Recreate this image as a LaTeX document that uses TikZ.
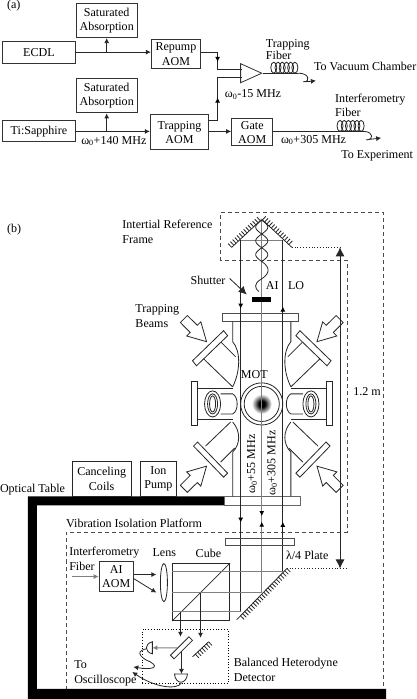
\documentclass[tikz,border=0pt]{standalone}
\usepackage{fontspec}
\setmainfont{Liberation Serif}
\usepackage{tikz}
\usetikzlibrary{arrows.meta, positioning}
\usetikzlibrary{shapes.geometric}
\usetikzlibrary{decorations.markings, decorations.pathreplacing}
\pgfdeclareradialshading{motcloud}{\pgfpointorigin}{color(0bp)=(black); color(8bp)=(black); color(16bp)=(black!50); color(25bp)=(white); color(50bp)=(white)}

\begin{document}
\begin{tikzpicture}[
		x=1pt,y=-1pt,
		every node/.style={font=\fontsize{12}{14.5}\selectfont, inner sep=0pt},
		block/.style={
			rectangle,
			draw=black!80,
			line width=1pt,
			align=center
		},
		caption/.style={
			align=left,
			anchor=west
		},
		wire/.style={
			line width=0.8pt,
			draw=black!85
		},
		beam/.style={
			line width=1pt,
			draw=black!50
		},
		arrow/.style={
			wire,
			->,
			>={Latex[length=5pt,width=5pt]}
		},
		beamarrow/.style={
			beam,
			->,
			>={Latex[length=5pt,width=5pt]}
		},
		tipat/.style={
			postaction={decorate,decoration={markings,
				mark=at position #1 with {\arrow[black]{Latex[length=5pt,width=5pt]}}}}
		},
		tipback/.style={
			postaction={decorate,decoration={markings,
				mark=at position #1 with {\arrowreversed[black]{Latex[length=5pt,width=5pt]}}}}
		},
		hatched/.style={
			wire,
			postaction={draw,decorate,decoration={border,segment length=3pt,amplitude=5pt,angle=90}}
		},
		frameline/.style={
			line width=0.8pt,
			draw=black!70,
			dash pattern=on 4pt off 3pt
		},
		bigarrow/.style={
			wire,
			fill=white
		}
		]
		
		% Part (a) nodes
		\node[caption] (parta) at (7,8) {(a)};
		\node[block, minimum width=72pt, minimum height=22pt] (ecdl) at (39,54.5) {ECDL};
		\node[block, minimum width=72pt, minimum height=21pt] (tisapph) at (39,133.5) {Ti:Sapphire};
		\node[block, minimum width=61pt, minimum height=34pt] (satone) at (106.5,23) {Saturated\\Absorption};
		\node[block, minimum width=61pt, minimum height=34pt] (sattwo) at (106.5,98) {Saturated\\Absorption};
		\node[block, minimum width=49pt, minimum height=29pt, right=75pt of ecdl.east, anchor=west, yshift=-2pt] (repump) {Repump\\AOM};
		\node[block, minimum width=58pt, minimum height=35pt] (trapping) at (179,134.5) {Trapping\\AOM};
		\node[block, minimum width=41pt, minimum height=27pt, right=22pt of trapping] (gate) {Gate\\AOM};
		\node[draw=black!80, line width=0.8pt, shape=isosceles triangle, isosceles triangle stretches,
			minimum height=21pt, minimum width=19pt, anchor=apex] (combiner) at (262,75.5) {};
		
		\coordinate (repumpin) at (241,71.5);
		\coordinate (trapin) at (241,80);
		\coordinate (jointr) at (217,71.5);
		\coordinate (jointt) at (217,80);
		\coordinate (trapcoil) at (297,75.5);
		\coordinate (vacuum) at (315,83);
		\coordinate (gatecoil) at (363,133.5);
		\coordinate (experiment) at (380,140);
		
		\node[caption] (trapfiber) at (265,52) {Trapping\\[-2.5pt]Fiber};
		\node[caption] (vacuumtext) at (313,69) {To Vacuum Chamber};
		\node[caption] (redtext) at (224,97) {ω\textsubscript{0}-15 MHz};
		\node[caption] (intfiber) at (334,107.5) {Interferometry\\Fiber};
		\node[caption] (gatetext) at (280,142) {ω\textsubscript{0}+305 MHz};
		\node[caption] (exptext) at (340,158) {To Experiment};
		\node[caption] (tisapphtext) at (81,143) {ω\textsubscript{0}+140 MHz};
		
		% Part (a) arrows
		\draw[arrow] (ecdl.east) -- (ecdl.east -| repump.west);
		\draw[arrow] (ecdl.east -| satone.south) -- (satone.south);
		\draw[arrow] (tisapph.east) -- (tisapph.east -| trapping.west);
		\draw[arrow] (tisapph.east -| sattwo.south) -- (sattwo.south);
		\draw[wire, tipat=.45] ([yshift=1.5pt]repump.east) -| (jointr) -- (repumpin);
		\draw[wire, tipat=.42] ([yshift=11.5pt]trapping.east) -| (jointt) -- (trapin);
		\draw[arrow] ([yshift=1pt]trapping.east) -- ([yshift=1pt]gate.west);
		\draw[wire] (gatecoil -| gate.east) -- (gatecoil);
		\draw[wire] (combiner.apex) -- (trapcoil);
		\foreach \loopx in {273,277.2,281.4,285.6,289.8,294}{
			\draw[wire] (\loopx,70) ellipse (3 and 5.5);
			\draw[wire] (\loopx+66,128) ellipse (3 and 5.5);
		}
		\draw[arrow] (trapcoil) .. controls (308,75) and (310,84) .. (303,84) .. controls (300,84) and (306,84) .. (vacuum);
		\draw[arrow] (gatecoil) .. controls (373,134) and (372,142) .. (366,142) .. controls (363,142) and (372,141) .. (experiment);
		
		% Part (b) frames and table
		\node[caption] (partb) at (7,231) {(b)};
		\draw[frameline] (220,214) -- (382,214) -- (382,689) -- (66,689) -- (66,533) -- (346,533) -- (346,262) -- (220,262) -- cycle;
		\fill[black] (28,497) -- (224,497) -- (224,506) -- (37,506) -- (37,689) -- (385,689) -- (385,699) -- (28,699) -- cycle;
		\node[draw=black!60, line width=0.8pt, fill=white, minimum width=75pt, minimum height=9pt] (platform) at (261.5,501.5) {};
		
		% Vacuum chamber, both sides
		\node[draw=black!70, line width=0.8pt, minimum width=76pt, minimum height=8pt] (topflange) at (260,319) {};
		\foreach \side in {1,-1}{
			\begin{scope}[xshift=261pt, xscale=\side]
				\draw[wire] (-29,323) -- (-29,343) .. controls (-21,352) and (-21,372) .. (-29,388);
				\draw[wire] (-29,423) .. controls (-21,432) and (-21,445) .. (-29,453) -- (-29,497);
				\draw[wire] (-41,343) -- (-26,358);
				\draw[wire] (-58,360) -- (-29,388);
				\draw[wire] (-56,447) -- (-31,423);
				\draw[wire] (-41,463) -- (-27,449);
				\draw[wire, fill=white] (-69,362) -- (-38,332) -- (-34,337) -- (-65,367) -- cycle;
				\draw[wire, fill=white] (-68,447) -- (-64,443) -- (-34,474) -- (-38,478) -- cycle;
				\draw[wire] (-70,383) rectangle (-64,426);
				\draw[wire] (-64,390) -- (-29,390);
				\draw[wire] (-64,420) -- (-29,420);
				\draw[wire] (-41,395) -- (-29,395) .. controls (-23,398) and (-23,412) .. (-29,415) -- (-41,415);
				\draw[wire, fill=white] (-49,405) ellipse (8 and 13);
				\draw[wire] (-49,405) ellipse (5 and 10);
				\draw[wire] (-49,405) ellipse (3 and 8);
				% Trapping beams
				\foreach \tipy/\dir in {343/1,467/-1}{
					\draw[bigarrow, shift={(-55,\tipy)}, yscale=\dir]
					(0,0) -- (-5.7,-19.8) -- (-9.2,-16.3) -- (-19.1,-26.1) -- (-26.1,-19.1) -- (-16.3,-9.2) -- (-19.8,-5.7) -- cycle;
				}
			\end{scope}
		}
		\coordinate (mot) at (261,405);
		\shade[shading=motcloud] (mot) circle (10);
		\draw[wire] (mot) circle (21);
		\draw[wire] (mot) circle (17.5);
		
		% Upper mirrors and beams
		\coordinate (mirrorl) at (231,249);
		\coordinate (mirrorc) at (261,221);
		\coordinate (mirrorr) at (291,249);
		\coordinate (lowmirrort) at (286,569);
		\coordinate (lowmirrorb) at (236,620);
		\draw[hatched] (mirrorl) -- (mirrorc) -- (mirrorr);
		\draw[hatched] (lowmirrort) -- (lowmirrorb);
		\draw[beam] (240,242) -- (282,242);
		\draw[wire, tipat=.184, tipat=.76] (240,242) -- (240,612);
		\draw[beam, tipat=.795, tipback=.81] (mirrorc) -- (261,593);
		\draw[wire, tipat=.15, tipat=.8] (282,572) -- (282,242);
		\draw[wire, domain=0:3, samples=50] plot ({261+6*sin(\x*180)},{222+\x*13.7});
		\draw[wire, domain=0:3, samples=50] plot ({261-6*sin(\x*180)},{222+\x*13.7});
		\draw[wire] (261,263) .. controls (271,270) and (268,276) .. (260,281) .. controls (253,285) and (254,290) .. (258,293);
		
		% Part (b) nodes
		\node[fill=black, minimum width=19pt, minimum height=5pt] (shutter) at (260.5,300.5) {};
		\node[caption] (shuttertext) at (190,282) {Shutter};
		\node[caption] (aitext) at (265,287.5) {AI};
		\node[caption] (lotext) at (287,287.5) {LO};
		\node[caption] (frametext) at (122,233.5) {Intertial Reference\\Frame};
		\node[caption] (beamstext) at (135,317.5) {Trapping\\Beams};
		\node[caption] (mottext) at (240,376) {MOT};
		\node[caption] (lengthtext) at (352,393) {1.2 m};
		\node[block, line width=0.8pt, minimum width=59pt, minimum height=35pt, draw=black!85] (coils) at (101.5,479.5) {Canceling\\Coils};
		\node[block, line width=0.8pt, minimum width=36pt, minimum height=35pt, draw=black!85] (pump) at (158,479.5) {Ion\\Pump};
		\node[caption] (tabletext) at (0,490) {Optical Table};
		\node[caption] (platformtext) at (66,524) {Vibration Isolation Platform};
		\node[rotate=90] (shifttext) at (251.5,465) {ω\textsubscript{0}+55 MHz};
		\node[rotate=90] (locktext) at (271.5,464) {ω\textsubscript{0}+305 MHz};
		\node[draw=black!70, line width=0.8pt, minimum width=69pt, minimum height=7pt] (plate) at (259.5,542.5) {};
		\node[caption] (platetext) at (285,556) {λ/4 Plate};
		\node[caption] (intfibertwo) at (69,559.5) {Interferometry\\Fiber};
		\node[block, line width=0.8pt, minimum width=34pt, minimum height=30pt] (aiaom) at (116,577) {AI\\AOM};
		\node[draw=black!85, line width=0.8pt, shape=ellipse, minimum width=7pt, minimum height=38pt] (lens) at (163.5,583) {};
		\node[caption] (lenstext) at (152,553) {Lens};
		\node[caption] (cubetext) at (195,554) {Cube};
		\node[draw=black!85, line width=0.8pt, minimum width=57pt, minimum height=57pt] (cube) at (200.5,592.5) {};
		\draw[wire] (cube.south west) -- (cube.north east);
		\draw[beam] (172,572) -- (282,572);
		\draw[beam] (172,593) -- (261,593);
		\draw[beam] (172,612) -- (240,612);
		
		% Detector
		\node[draw=black, dotted, line width=0.8pt, minimum width=86pt, minimum height=53pt] (detbox) at (185,656.5) {};
		\node[caption] (dettext) at (233,670) {Balanced Heterodyne\\Detector};
		\node[caption] (scopetext) at (74,673.5) {To\\Oscilloscope};
		\node[draw=black!85, line width=0.8pt, fill=white, minimum width=26pt, minimum height=5pt, rotate=45] (splitter) at (181,648) {};
		\coordinate (smallmirrort) at (208,642);
		\coordinate (smallmirrorb) at (192,657);
		\draw[hatched] (smallmirrort) -- (smallmirrorb);
		\draw[wire] (152,642) .. controls (144,644) and (144,652) .. (152,654) -- cycle;
		\draw[wire] (174,674) -- (187,674) .. controls (186,685) and (175,685) .. cycle;
		\coordinate (deta) at (152,648);
		\coordinate (detb) at (181,674);
		\coordinate (scopea) at (133,667);
		\coordinate (scopeb) at (132,672);
		\coordinate (aifiber) at (72,577);
		\coordinate (lensup) at (156,575);
		\coordinate (lensdown) at (156,593);
		
		% Arrows in part (b)
		\draw[beamarrow] (aifiber) -- (aiaom.west);
		\draw[arrow] ([yshift=2pt]aiaom.east) -- (lensup);
		\draw[arrow] ([yshift=-2pt]aiaom.east) -- (lensdown);
		\draw[arrow] (180,612) -- (180,637);
		\draw[arrow] (200,593) -- (200,638);
		\draw[beamarrow] (splitter) -- (deta);
		\draw[arrow] (splitter) -- (detb);
		\draw[arrow] (146,649) .. controls (132,652) and (144,660) .. (150,662) .. controls (160,668) and (150,670) .. (scopea);
		\draw[arrow] (181,683) .. controls (177,690) and (155,688) .. (scopeb);
		\draw[arrow, >={Latex[length=8pt,width=8pt]}] (229,280) -- (246,296);
		\draw[wire, dotted] (mirrorr) -- (339,249);
		\draw[wire, dotted] (lowmirrort) -- (345,569);
		\draw[wire, <->, >={Latex[length=9pt,width=9pt]}] (339,249) -- (339,569);
	\end{tikzpicture}
\end{document}
